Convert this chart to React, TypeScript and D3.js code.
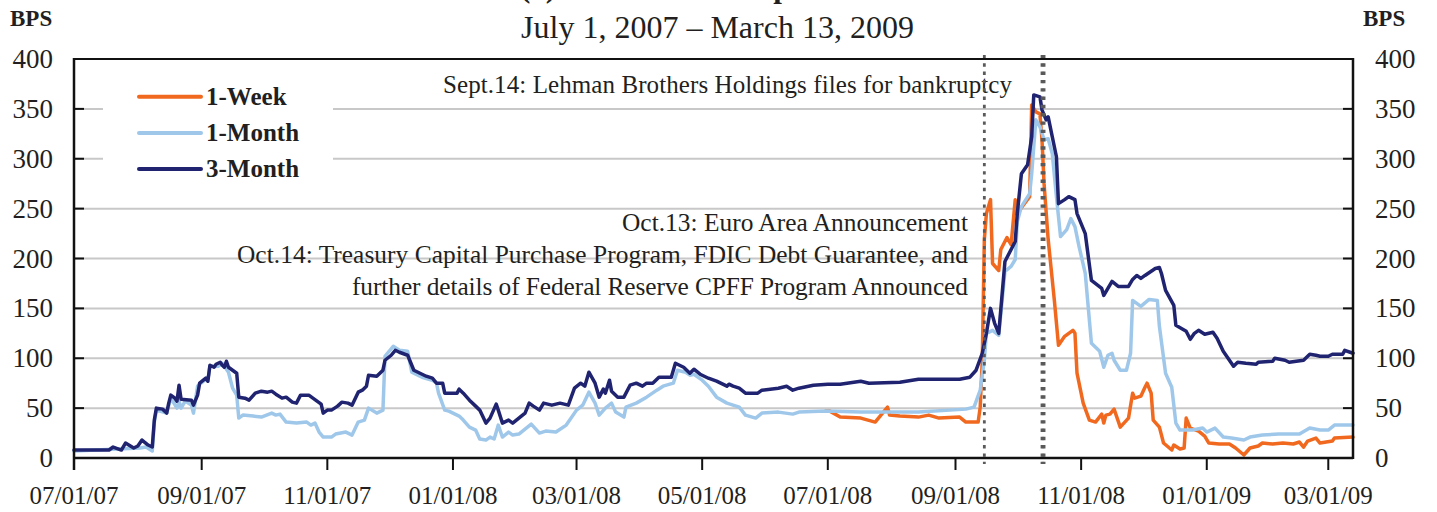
import React from "react";
import * as d3 from "d3";

// ---------- DATA ----------
const titleTop = "(a) LIBOR – OIS Spreads";
const titleSub = "July 1, 2007 – March 13, 2009";
const unitLabel = "BPS";
const domainStart = "2007-07-01";
const domainEnd = "2009-03-13";
const xTickDates = ["2007-07-01", "2007-09-01", "2007-11-01", "2008-01-01", "2008-03-01", "2008-05-01", "2008-07-01", "2008-09-01", "2008-11-01", "2009-01-01", "2009-03-01"];
const yTicks = [0, 50, 100, 150, 200, 250, 300, 350, 400];
const seriesNames = ["1-Week", "1-Month", "3-Month"];
const eventDates = ["2008-09-15", "2008-10-13", "2008-10-14"];
const noteLehman = "Sept.14: Lehman Brothers Holdings files for bankruptcy";
const noteOct = [
  "Oct.13: Euro Area Announcement",
  "Oct.14: Treasury Capital Purchase Program, FDIC Debt Guarantee, and",
  "further details of Federal Reserve CPFF Program Announced",
];

const threeMonth: [string, number][] = [
  ["2007-07-01", 8], ["2007-07-18", 8], ["2007-07-20", 11], ["2007-07-24", 8], ["2007-07-26", 15], ["2007-07-30", 10],
  ["2007-08-01", 12], ["2007-08-03", 18], ["2007-08-06", 13], ["2007-08-08", 11], ["2007-08-09", 38], ["2007-08-10", 50],
  ["2007-08-13", 49], ["2007-08-15", 45], ["2007-08-16", 55], ["2007-08-17", 63], ["2007-08-19", 60], ["2007-08-20", 57],
  ["2007-08-21", 73], ["2007-08-22", 59], ["2007-08-27", 58], ["2007-08-28", 53], ["2007-08-30", 63], ["2007-08-31", 75],
  ["2007-09-03", 80], ["2007-09-04", 77], ["2007-09-05", 93], ["2007-09-07", 91], ["2007-09-08", 94], ["2007-09-10", 96],
  ["2007-09-11", 93], ["2007-09-12", 91], ["2007-09-13", 97], ["2007-09-14", 91], ["2007-09-16", 88], ["2007-09-18", 85],
  ["2007-09-19", 61], ["2007-09-22", 60], ["2007-09-24", 58], ["2007-09-27", 65], ["2007-09-30", 67], ["2007-10-03", 66],
  ["2007-10-05", 67], ["2007-10-07", 64], ["2007-10-10", 60], ["2007-10-12", 61], ["2007-10-15", 56], ["2007-10-17", 55],
  ["2007-10-19", 63], ["2007-10-23", 63], ["2007-10-25", 60], ["2007-10-27", 57], ["2007-10-29", 54], ["2007-10-30", 45],
  ["2007-11-01", 48], ["2007-11-03", 48], ["2007-11-06", 52], ["2007-11-08", 56], ["2007-11-11", 55], ["2007-11-13", 53],
  ["2007-11-16", 66], ["2007-11-18", 68], ["2007-11-20", 72], ["2007-11-21", 83], ["2007-11-25", 82], ["2007-11-28", 88],
  ["2007-11-29", 98], ["2007-12-02", 103], ["2007-12-04", 108], ["2007-12-06", 106], ["2007-12-10", 103], ["2007-12-13", 88],
  ["2007-12-16", 85], ["2007-12-19", 82], ["2007-12-22", 80], ["2007-12-24", 75], ["2007-12-27", 75], ["2007-12-28", 65],
  ["2008-01-03", 65], ["2008-01-04", 69], ["2008-01-06", 65], ["2008-01-09", 58], ["2008-01-12", 52], ["2008-01-14", 48],
  ["2008-01-17", 35], ["2008-01-19", 40], ["2008-01-22", 54], ["2008-01-23", 48], ["2008-01-25", 35], ["2008-01-28", 38],
  ["2008-01-30", 35], ["2008-02-02", 40], ["2008-02-05", 45], ["2008-02-07", 55], ["2008-02-09", 52], ["2008-02-12", 48],
  ["2008-02-14", 55], ["2008-02-18", 53], ["2008-02-22", 55], ["2008-02-26", 53], ["2008-02-29", 70], ["2008-03-03", 75],
  ["2008-03-05", 72], ["2008-03-07", 86], ["2008-03-10", 75], ["2008-03-12", 61], ["2008-03-14", 69], ["2008-03-15", 65],
  ["2008-03-17", 78], ["2008-03-18", 67], ["2008-03-21", 61], ["2008-03-24", 61], ["2008-03-27", 73], ["2008-03-30", 75],
  ["2008-04-02", 72], ["2008-04-04", 75], ["2008-04-07", 75], ["2008-04-10", 81], ["2008-04-16", 81], ["2008-04-18", 95],
  ["2008-04-22", 91], ["2008-04-25", 85], ["2008-04-27", 89], ["2008-04-30", 84], ["2008-05-04", 80], ["2008-05-08", 77],
  ["2008-05-13", 72], ["2008-05-14", 74], ["2008-05-16", 72], ["2008-05-19", 70], ["2008-05-22", 65], ["2008-05-28", 65],
  ["2008-05-30", 68], ["2008-06-07", 70], ["2008-06-11", 72], ["2008-06-14", 68], ["2008-06-17", 70], ["2008-06-24", 73],
  ["2008-07-01", 74], ["2008-07-07", 74], ["2008-07-17", 77], ["2008-07-21", 75], ["2008-08-05", 76], ["2008-08-14", 79],
  ["2008-09-03", 79], ["2008-09-08", 81], ["2008-09-11", 88], ["2008-09-14", 105], ["2008-09-16", 125], ["2008-09-18", 150],
  ["2008-09-20", 135], ["2008-09-22", 125], ["2008-09-25", 197], ["2008-09-27", 205], ["2008-09-30", 217], ["2008-10-01", 245],
  ["2008-10-03", 285], ["2008-10-06", 294], ["2008-10-08", 322], ["2008-10-09", 364], ["2008-10-12", 362], ["2008-10-13", 349],
  ["2008-10-15", 339], ["2008-10-16", 342], ["2008-10-18", 322], ["2008-10-20", 302], ["2008-10-21", 255], ["2008-10-24", 259],
  ["2008-10-26", 262], ["2008-10-29", 259], ["2008-10-30", 245], ["2008-11-03", 225], ["2008-11-06", 178], ["2008-11-11", 170],
  ["2008-11-12", 163], ["2008-11-16", 177], ["2008-11-19", 172], ["2008-11-24", 172], ["2008-11-26", 179], ["2008-11-28", 183],
  ["2008-11-30", 180], ["2008-12-02", 183], ["2008-12-07", 190], ["2008-12-09", 191], ["2008-12-10", 185], ["2008-12-12", 168],
  ["2008-12-16", 153], ["2008-12-17", 133], ["2008-12-22", 127], ["2008-12-24", 119], ["2008-12-26", 125], ["2008-12-28", 128],
  ["2008-12-31", 124], ["2009-01-04", 126], ["2009-01-06", 120], ["2009-01-09", 107], ["2009-01-14", 92], ["2009-01-16", 96],
  ["2009-01-20", 95], ["2009-01-25", 94], ["2009-01-26", 96], ["2009-02-02", 97], ["2009-02-03", 100], ["2009-02-08", 98],
  ["2009-02-10", 96], ["2009-02-17", 98], ["2009-02-20", 104], ["2009-02-23", 103], ["2009-02-25", 102], ["2009-03-01", 102],
  ["2009-03-03", 104], ["2009-03-08", 104], ["2009-03-09", 108], ["2009-03-13", 105],
];

const oneMonth: [string, number][] = [
  ["2007-07-01", 7], ["2007-08-02", 10], ["2007-08-05", 11], ["2007-08-08", 7], ["2007-08-09", 36], ["2007-08-10", 48],
  ["2007-08-15", 45], ["2007-08-17", 60], ["2007-08-20", 50], ["2007-08-21", 57], ["2007-08-22", 50], ["2007-08-24", 57],
  ["2007-08-27", 53], ["2007-08-28", 45], ["2007-08-30", 72], ["2007-09-03", 79], ["2007-09-04", 79], ["2007-09-05", 92],
  ["2007-09-09", 92], ["2007-09-11", 95], ["2007-09-14", 86], ["2007-09-16", 70], ["2007-09-18", 63], ["2007-09-19", 40],
  ["2007-09-21", 43], ["2007-09-26", 42], ["2007-09-30", 41], ["2007-10-05", 45], ["2007-10-07", 43], ["2007-10-09", 44],
  ["2007-10-12", 36], ["2007-10-17", 35], ["2007-10-22", 36], ["2007-10-24", 33], ["2007-10-26", 35], ["2007-10-28", 26],
  ["2007-10-30", 21], ["2007-11-03", 21], ["2007-11-05", 24], ["2007-11-10", 26], ["2007-11-13", 23], ["2007-11-16", 36],
  ["2007-11-19", 38], ["2007-11-21", 50], ["2007-11-25", 45], ["2007-11-28", 48], ["2007-11-29", 102], ["2007-12-03", 112],
  ["2007-12-06", 108], ["2007-12-10", 107], ["2007-12-12", 86], ["2007-12-17", 81], ["2007-12-22", 78], ["2007-12-24", 75],
  ["2007-12-25", 65], ["2007-12-28", 48], ["2007-12-30", 47], ["2008-01-04", 42], ["2008-01-06", 38], ["2008-01-09", 31],
  ["2008-01-12", 28], ["2008-01-14", 19], ["2008-01-17", 18], ["2008-01-19", 21], ["2008-01-21", 19], ["2008-01-23", 33],
  ["2008-01-25", 21], ["2008-01-28", 26], ["2008-01-30", 23], ["2008-02-02", 24], ["2008-02-05", 29], ["2008-02-08", 34],
  ["2008-02-12", 25], ["2008-02-15", 27], ["2008-02-20", 26], ["2008-02-25", 33], ["2008-03-01", 48], ["2008-03-04", 53],
  ["2008-03-07", 66], ["2008-03-10", 55], ["2008-03-12", 43], ["2008-03-15", 50], ["2008-03-18", 55], ["2008-03-20", 46],
  ["2008-03-24", 41], ["2008-03-25", 51], ["2008-03-30", 55], ["2008-04-04", 61], ["2008-04-09", 68], ["2008-04-12", 72],
  ["2008-04-17", 75], ["2008-04-19", 88], ["2008-04-23", 86], ["2008-04-25", 83], ["2008-04-27", 84], ["2008-05-01", 78],
  ["2008-05-04", 72], ["2008-05-08", 61], ["2008-05-13", 55], ["2008-05-19", 51], ["2008-05-22", 43], ["2008-05-27", 40],
  ["2008-05-30", 45], ["2008-06-07", 46], ["2008-06-14", 44], ["2008-06-17", 46], ["2008-06-30", 47], ["2008-07-17", 46],
  ["2008-08-14", 46], ["2008-09-06", 49], ["2008-09-10", 51], ["2008-09-13", 68], ["2008-09-15", 98], ["2008-09-16", 125],
  ["2008-09-19", 128], ["2008-09-22", 123], ["2008-09-25", 187], ["2008-09-28", 192], ["2008-09-30", 199], ["2008-10-01", 237],
  ["2008-10-03", 252], ["2008-10-07", 265], ["2008-10-08", 285], ["2008-10-10", 339], ["2008-10-12", 332], ["2008-10-14", 319],
  ["2008-10-16", 320], ["2008-10-18", 305], ["2008-10-20", 262], ["2008-10-22", 222], ["2008-10-25", 229], ["2008-10-27", 240],
  ["2008-10-29", 232], ["2008-10-31", 212], ["2008-11-03", 185], ["2008-11-06", 115], ["2008-11-10", 107], ["2008-11-12", 91],
  ["2008-11-14", 103], ["2008-11-16", 105], ["2008-11-17", 98], ["2008-11-20", 88], ["2008-11-23", 88], ["2008-11-25", 105],
  ["2008-11-26", 158], ["2008-11-30", 152], ["2008-12-04", 159], ["2008-12-08", 158], ["2008-12-09", 132], ["2008-12-12", 85],
  ["2008-12-15", 71], ["2008-12-17", 35], ["2008-12-19", 28], ["2008-12-25", 28], ["2008-12-30", 30], ["2009-01-01", 26],
  ["2009-01-05", 30], ["2009-01-09", 21], ["2009-01-13", 20], ["2009-01-19", 18], ["2009-01-22", 21], ["2009-01-28", 23],
  ["2009-02-05", 24], ["2009-02-15", 24], ["2009-02-20", 30], ["2009-02-25", 28], ["2009-03-01", 28], ["2009-03-04", 33],
  ["2009-03-13", 33],
];

const oneWeek: [string, number][] = [
  ["2008-06-30", 47], ["2008-07-02", 47], ["2008-07-07", 41], ["2008-07-17", 40], ["2008-07-24", 36], ["2008-07-26", 41],
  ["2008-07-30", 51], ["2008-07-31", 43], ["2008-08-05", 42], ["2008-08-14", 41], ["2008-08-19", 43], ["2008-08-24", 40],
  ["2008-09-03", 41], ["2008-09-06", 36], ["2008-09-12", 36], ["2008-09-13", 51], ["2008-09-14", 98], ["2008-09-15", 219],
  ["2008-09-16", 245], ["2008-09-18", 259], ["2008-09-19", 195], ["2008-09-22", 188], ["2008-09-23", 209], ["2008-09-26", 221],
  ["2008-09-28", 214], ["2008-09-30", 259], ["2008-10-01", 244], ["2008-10-03", 251], ["2008-10-07", 262], ["2008-10-08", 354],
  ["2008-10-10", 347], ["2008-10-12", 345], ["2008-10-13", 319], ["2008-10-14", 275], ["2008-10-16", 219], ["2008-10-19", 158],
  ["2008-10-21", 113], ["2008-10-24", 122], ["2008-10-28", 128], ["2008-10-29", 125], ["2008-10-30", 85], ["2008-11-02", 55],
  ["2008-11-05", 38], ["2008-11-08", 36], ["2008-11-11", 44], ["2008-11-12", 35], ["2008-11-13", 43], ["2008-11-15", 44],
  ["2008-11-17", 49], ["2008-11-20", 31], ["2008-11-24", 40], ["2008-11-26", 65], ["2008-11-27", 60], ["2008-11-30", 62],
  ["2008-12-02", 71], ["2008-12-03", 75], ["2008-12-05", 65], ["2008-12-06", 38], ["2008-12-09", 31], ["2008-12-11", 15],
  ["2008-12-15", 8], ["2008-12-16", 13], ["2008-12-19", 9], ["2008-12-21", 10], ["2008-12-22", 40], ["2008-12-24", 30],
  ["2008-12-28", 27], ["2008-12-31", 22], ["2009-01-02", 15], ["2009-01-07", 14], ["2009-01-12", 14], ["2009-01-15", 10],
  ["2009-01-19", 3], ["2009-01-22", 10], ["2009-01-26", 12], ["2009-01-28", 15], ["2009-02-02", 14], ["2009-02-07", 15],
  ["2009-02-12", 14], ["2009-02-15", 16], ["2009-02-17", 11], ["2009-02-19", 17], ["2009-02-23", 20], ["2009-02-25", 15],
  ["2009-03-03", 17], ["2009-03-04", 20], ["2009-03-13", 21],
];

const seriesColors = ["#f0691f", "#9fc7ea", "#1f2370"];

// ---------- CHART ----------
const W = 1437;
const H = 512;
const M = { left: 74, right: 1353, top: 59, bottom: 458 };
const parse = d3.timeParse("%Y-%m-%d");
const fmt = d3.timeFormat("%m/%d/%y");
const serif = "'Liberation Serif', 'Times New Roman', Times, serif";
const noteOctStart = [622, 237, 352];

export default function App() {
  const x = d3.scaleTime().domain([parse(domainStart)!, parse(domainEnd)!]).range([M.left, M.right]);
  const y = d3.scaleLinear().domain([0, 400]).range([M.bottom, M.top]);
  const line = d3
    .line<[string, number]>()
    .x((d) => x(parse(d[0])!))
    .y((d) => y(d[1]));
  const allSeries = [oneWeek, oneMonth, threeMonth];
  const textColor = "#231f20";

  return (
    <svg width={W} height={H} style={{ position: "absolute", left: 0, top: 0, display: "block", background: "#fff" }} fontFamily={serif}>
      <rect x={0} y={0} width={W} height={H} fill="#fff" />
      {/* titles */}
      <text x={520} y={-3} fontSize={31} fontWeight="bold" fill={textColor}>{titleTop}</text>
      <text x={717.5} y={38} fontSize={32} textAnchor="middle" fill={textColor}>{titleSub}</text>
      <text x={10} y={26} fontSize={23} fontWeight="bold" fill={textColor}>{unitLabel}</text>
      <text x={1363} y={26} fontSize={23} fontWeight="bold" fill={textColor}>{unitLabel}</text>

      {/* grid */}
      {yTicks.filter((t) => t > 0 && t < 400).map((t) => (
        <line key={"g" + t} x1={M.left} x2={M.right} y1={y(t)} y2={y(t)} stroke="#c8c8c8" strokeWidth={2} />
      ))}

      {/* legend box */}
      <rect x={103} y={61} width={230} height={128} fill="#fff" />
      {seriesNames.map((n, i) => (
        <g key={n}>
          <line x1={139} x2={201} y1={96.7 + i * 36.2} y2={96.7 + i * 36.2} stroke={seriesColors[i]} strokeWidth={4} strokeLinecap="round" />
          <text x={206} y={105 + i * 36} fontSize={25} fontWeight="bold" fill={textColor}>{n}</text>
        </g>
      ))}

      {/* annotations */}
      <text x={443} y={93} fontSize={25} fill={textColor} textLength={569} lengthAdjust="spacing">{noteLehman}</text>
      {noteOct.map((s, i) => (
        <text key={i} x={noteOctStart[i]} y={231 + i * 32} fontSize={25.4} fill={textColor} textLength={968 - noteOctStart[i]} lengthAdjust="spacing">{s}</text>
      ))}

      {/* series */}
      {allSeries.map((s, i) => (
        <path key={i} d={line(s) || ""} fill="none" stroke={seriesColors[i]} strokeWidth={3.5} strokeLinejoin="round" strokeLinecap="round" />
      ))}

      {/* event lines */}
      {eventDates.map((d) => (
        <line key={d} x1={x(parse(d)!)} x2={x(parse(d)!)} y1={55} y2={464} stroke="#5a5a5a" strokeWidth={2.8} strokeDasharray="3.4 4.9" />
      ))}

      {/* frame */}
      <line x1={M.left} x2={M.right} y1={M.top} y2={M.top} stroke="#111" strokeWidth={2} />
      <line x1={M.left} x2={M.right} y1={M.bottom} y2={M.bottom} stroke="#111" strokeWidth={2.5} />
      <line x1={M.left} x2={M.left} y1={M.top - 1} y2={470} stroke="#111" strokeWidth={2.5} />
      <line x1={M.right} x2={M.right} y1={M.top - 1} y2={M.bottom + 1} stroke="#111" strokeWidth={2.5} />

      {/* y ticks & labels */}
      {yTicks.map((t) => (
        <g key={"y" + t}>
          <line x1={M.left} x2={M.left + 10} y1={y(t)} y2={y(t)} stroke="#111" strokeWidth={2} />
          <line x1={M.right - 10} x2={M.right} y1={y(t)} y2={y(t)} stroke="#111" strokeWidth={2} />
          <text x={53} y={y(t) + 9} fontSize={27} textAnchor="end" fill={textColor}>{t}</text>
          <text x={1375} y={y(t) + 9} fontSize={27} fill={textColor}>{t}</text>
        </g>
      ))}

      {/* x ticks & labels */}
      {xTickDates.map((d) => {
        const xx = x(parse(d)!);
        return (
          <g key={d}>
            <line x1={xx} x2={xx} y1={M.bottom} y2={470} stroke="#111" strokeWidth={2} />
            <text x={xx} y={504} fontSize={25} textAnchor="middle" fill={textColor}>{fmt(parse(d)!)}</text>
          </g>
        );
      })}
    </svg>
  );
}
